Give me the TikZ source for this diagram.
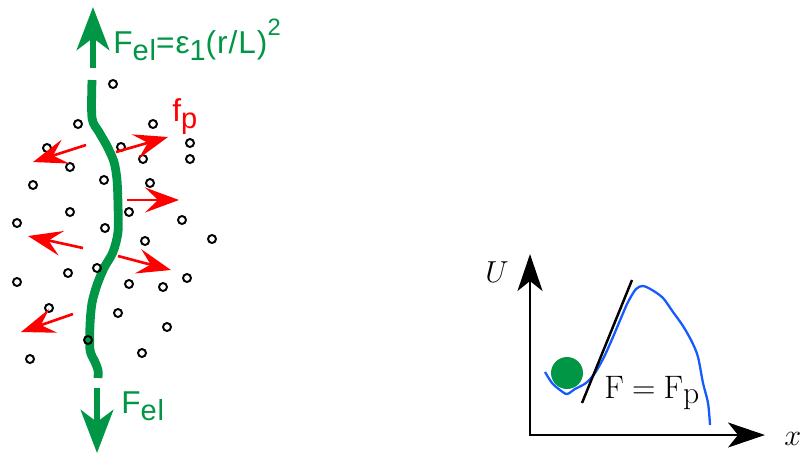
\documentclass[tikz,border=0pt]{standalone}
\usepackage{fontspec}
\usepackage{tikz}
\usetikzlibrary{arrows.meta}
\newfontfamily\arialfont[LetterSpace=3]{Liberation Sans}
\definecolor{elgreen}{RGB}{0,150,70}
\definecolor{potblue}{RGB}{20,90,255}
\newcommand\lowsub[1]{\raisebox{-0.45ex}{\fontsize{16.5}{18}\selectfont #1}}
\newcommand\highsup[1]{\raisebox{1.05ex}{\fontsize{13.5}{15}\selectfont #1}}

\begin{document}
\begin{tikzpicture}[x=0.02cm, y=-0.02cm,
    elarrow/.style={elgreen, line width=3.5pt, -{Stealth[length=0.86cm, width=0.65cm, inset=0.24cm]}},
    fparrow/.style={red, line width=1.5pt, -{Stealth[length=0.68cm, width=0.5cm, inset=0.26cm]}},
    axis/.style={black, line width=1.4pt, {Stealth[length=0.74cm, width=0.5cm, inset=0.2cm]}-{Stealth[length=0.74cm, width=0.5cm, inset=0.2cm]}},
    pin/.style={black, line width=1.1pt},
    every node/.style={inner sep=0pt}]
  \useasboundingbox (0,0) rectangle (800,454);

  % elastic line and pinning centres
  \draw[elgreen, line width=5pt, line join=round] plot[smooth, tension=0.5] coordinates {
    (92,80) (92,118) (99,132) (107,146) (114,162) (117,180) (118,205) (118,232)
    (113,252) (104,268) (97,285) (92,303) (90,325) (90,350) (95,362) (98,370) (98,378)};
  \foreach \px/\py in {113/84, 78/124, 153/124, 47/148, 121/147, 190/143, 143/159, 190/159,
      70/167, 33/185, 104/180, 150/183, 70/212, 129/212, 182/220, 17/223, 105/228, 212/239,
      145/241, 68/273, 97/268, 17/282, 129/284, 163/287, 187/278, 49/308, 118/313, 167/327,
      88/340, 142/353, 30/359}
    \draw[pin] (\px,\py) circle[radius=0.08cm];

  % elastic forces
  \coordinate (upS) at (93,68);
  \coordinate (upT) at (93,7);
  \coordinate (dnS) at (97,388);
  \coordinate (dnT) at (97,453);
  \draw[elarrow] (upS) -- (upT);
  \draw[elarrow] (dnS) -- (dnT);
  \node[anchor=base west, elgreen, font=\arialfont\fontsize{18}{21}\selectfont] (felup) at (113,53)
    {F\lowsub{el}=ε\lowsub{1}(r/L)\highsup{2}};
  \node[anchor=base west, elgreen, font=\arialfont\fontsize{18}{21}\selectfont] (feldn) at (121,413)
    {F\lowsub{el}};

  % pinning forces
  \foreach \i/\ax/\ay/\bx/\by in {1/86/145/33/162, 2/116/152/168/137, 3/127/200/179/200,
      4/83/248/28/236, 5/118/256/171/270, 6/73/314/21/332} {
    \coordinate (fs\i) at (\ax,\ay);
    \coordinate (fe\i) at (\bx,\by);
    \draw[fparrow] (fs\i) -- (fe\i);
  }
  \node[anchor=base west, red, font=\arialfont\fontsize{18}{21}\selectfont] (fp) at (172,121)
    {f\lowsub{p}};

  % potential well
  \coordinate (O) at (530,435);
  \coordinate (yT) at (530,254);
  \coordinate (xT) at (765,435);
  \draw[axis] (yT) -- (O) -- (xT);
  \node[anchor=base west, font=\fontsize{18}{21}\selectfont] (ulab) at (485,282) {$U$};
  \node[anchor=base west, font=\fontsize{18}{21}\selectfont] (xlab) at (784,445) {$x$};
  \draw[potblue, line width=1.3pt] plot[smooth, tension=0.5] coordinates {
    (545,372) (552,383) (560,390) (567,394) (575,389) (586,383) (595,373) (604,357)
    (613,337) (621,318) (628,302) (636,289) (643,286) (652,290) (663,298) (673,312)
    (683,326) (692,342) (698,357) (703,383) (708,403) (710,425)};
  \node[circle, fill=elgreen, minimum width=0.64cm] (ball) at (567,373) {};
  \coordinate (tA) at (582,403);
  \coordinate (tB) at (632,280);
  \draw[black, line width=1.4pt] (tA) -- (tB);
  \node[anchor=base west, font=\fontsize{18.5}{22}\selectfont] (flab) at (604,398)
    {F\hspace{0.25em}=\hspace{0.25em}F\raisebox{-3.2pt}{\fontsize{18}{20}\selectfont p}};
\end{tikzpicture}
\end{document}
